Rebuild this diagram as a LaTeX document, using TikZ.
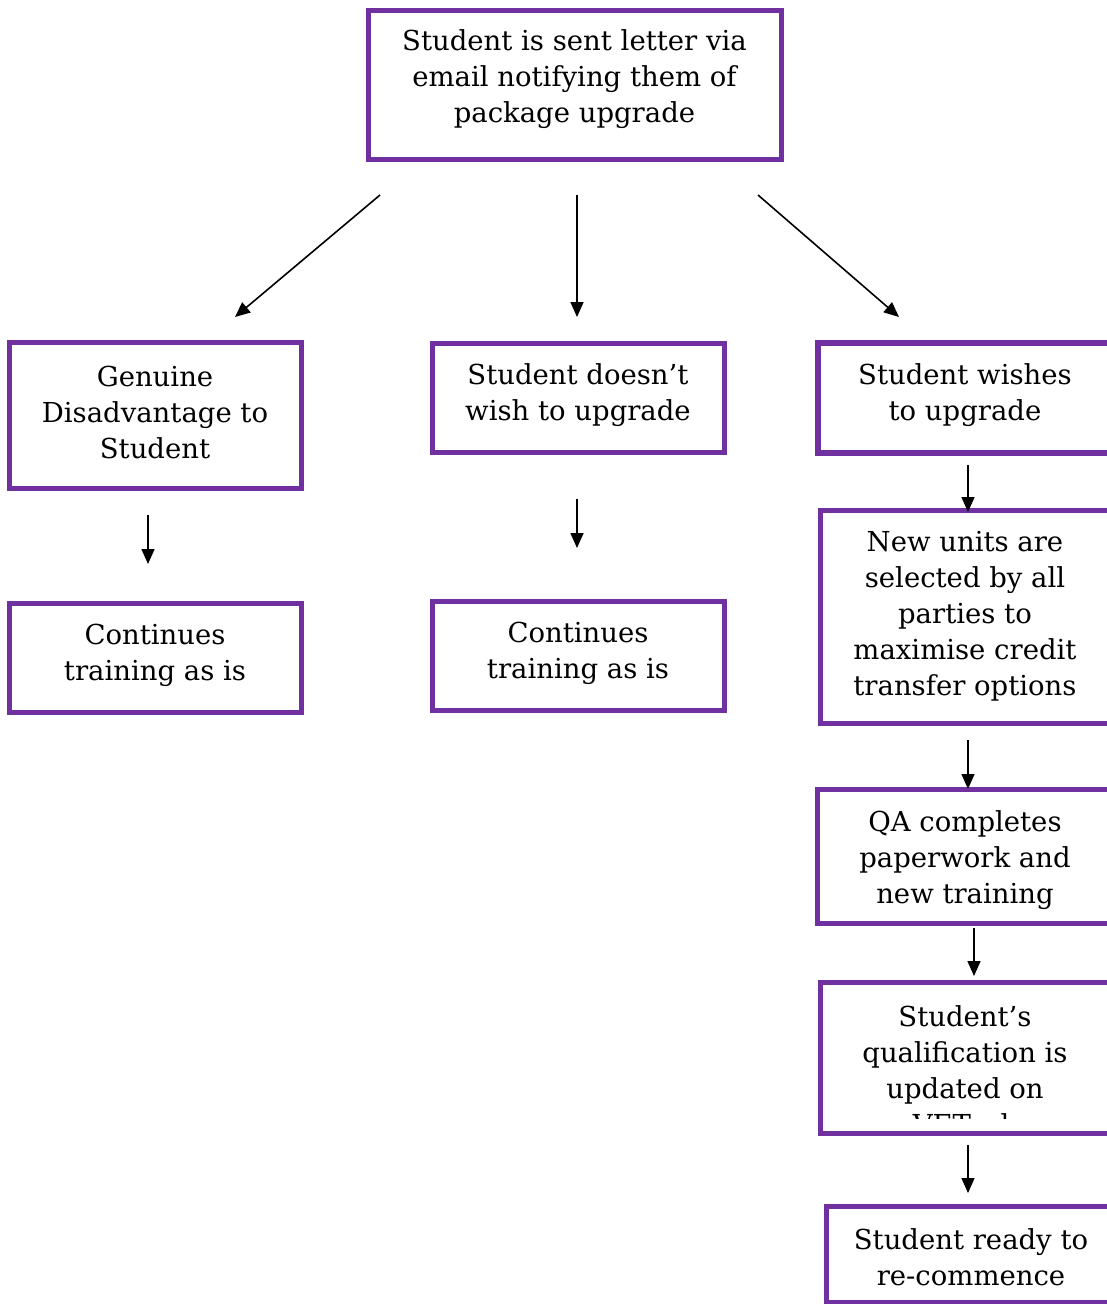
\documentclass[tikz,border=0pt]{standalone}
\usepackage{fontspec}
\setmainfont{DejaVu Serif}
\usetikzlibrary{arrows.meta}
\definecolor{boxpurple}{HTML}{7030A0}
\begin{document}
\begin{tikzpicture}[x=1pt,y=-1pt,
  box/.style={draw=boxpurple,line width=5pt,fill=none,inner sep=0pt},
  txt/.style={align=center,inner sep=0pt,font=\fontsize{27.5}{36}\selectfont},
  arr/.style={-{Triangle[length=15pt,width=13pt]},line width=1.6pt,black}]
\useasboundingbox (0,0) rectangle (1107,1304);
\fill[white] (0,0) rectangle (1107,1304);
\clip (0,0) rectangle (1107,1304);
% boxes
\node[box,minimum width=413pt,minimum height=149pt] (top) at (574.5,84.5) {};
\node[box,minimum width=292pt,minimum height=146pt] (gen) at (155,415) {};
\node[box,minimum width=292pt,minimum height=109pt] (contl) at (155,657.5) {};
\node[box,minimum width=292pt,minimum height=109pt] (nowish) at (578,397.5) {};
\node[box,minimum width=292pt,minimum height=109pt] (contm) at (578,655.5) {};
\node[box,line width=6.5pt,minimum width=294pt,minimum height=110pt] (wish) at (965,398) {};
\node[box,minimum width=290pt,minimum height=213pt] (units) at (965,616.5) {};
\node[box,minimum width=296pt,minimum height=134pt] (qa) at (965,856) {};
\node[box,minimum width=290pt,minimum height=151pt] (qual) at (965,1057.5) {};
\node[box,minimum width=290pt,minimum height=96pt] (ready) at (971,1254) {};
% texts
\node[txt] at (574.5,79) {Student is sent letter via\\email notifying them of\\package upgrade};
\node[txt] at (155,412) {Genuine\\Disadvantage to\\Student};
\node[txt] at (155,655) {Continues\\training as is};
\node[txt] at (578,395) {Student doesn’t\\wish to upgrade};
\node[txt] at (578,653.5) {Continues\\training as is};
\node[txt] at (965,395) {Student wishes\\to upgrade};
\node[txt] at (965,616.5) {New units are\\selected by all\\parties to\\maximise credit\\transfer options};
\node[txt] at (965,860) {QA completes\\paperwork and\\new training};
\begin{scope}
\clip (822,990) rectangle (1107,1118);
\node[txt] at (965,1070) {Student’s\\qualification is\\updated on\\VETrak};
\end{scope}
\node[txt] at (971,1257.5) {Student ready to\\re-commence};
% arrow end points
\coordinate (a1s) at (380,195); \coordinate (a1e) at (235,317);
\coordinate (a2s) at (577,195); \coordinate (a2e) at (577,317);
\coordinate (a3s) at (758,195); \coordinate (a3e) at (899,317);
\coordinate (a4s) at (148,515); \coordinate (a4e) at (148,564);
\coordinate (a5s) at (577,499); \coordinate (a5e) at (577,548);
\coordinate (a6s) at (968,465); \coordinate (a6e) at (968,512);
\coordinate (a7s) at (968,740); \coordinate (a7e) at (968,789);
\coordinate (a8s) at (974,928); \coordinate (a8e) at (974,976);
\coordinate (a9s) at (968,1145); \coordinate (a9e) at (968,1193);
\draw[arr] (a1s) -- (a1e);
\draw[arr] (a2s) -- (a2e);
\draw[arr] (a3s) -- (a3e);
\draw[arr] (a4s) -- (a4e);
\draw[arr] (a5s) -- (a5e);
\draw[arr] (a6s) -- (a6e);
\draw[arr] (a7s) -- (a7e);
\draw[arr] (a8s) -- (a8e);
\draw[arr] (a9s) -- (a9e);
\end{tikzpicture}
\end{document}
